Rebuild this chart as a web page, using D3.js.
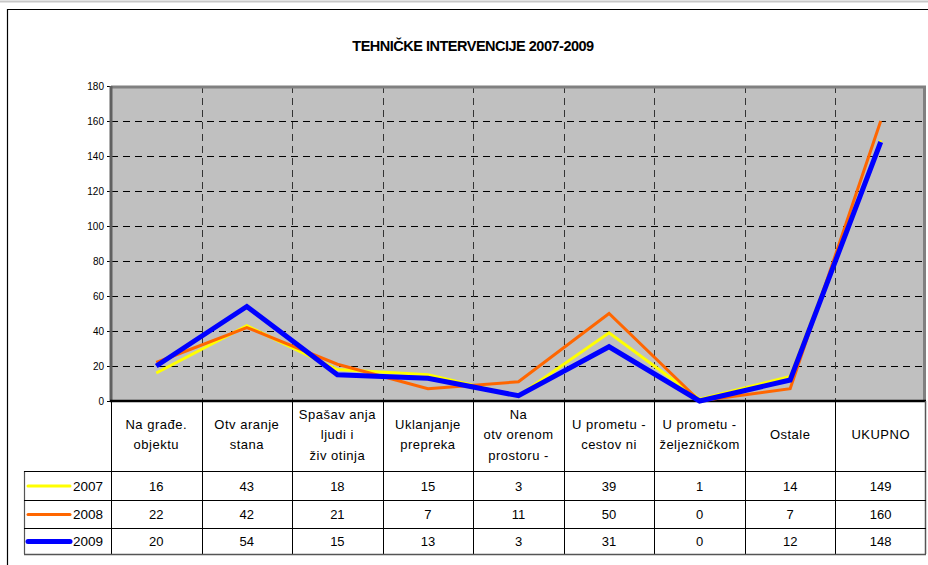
<!DOCTYPE html>
<html>
<head>
<meta charset="utf-8">
<script src="https://cdn.jsdelivr.net/npm/d3@7"></script>
<style>
  html, body { margin: 0; padding: 0; background: #fff; }
  svg { display: block; font-family: "Liberation Sans", Arial, sans-serif; }
</style>
</head>
<body>
<svg id="chart" width="928" height="565"></svg>
<script>
// ---- data ----
const title = "TEHNIČKE INTERVENCIJE 2007-2009";
const categories = ["Na građe. objektu", "Otvaranje stana", "Spašavanja ljudi i životinja", "Uklanjanje prepreka",
  "Na otvorenom prostoru -", "U prometu - cestovni", "U prometu - željezničkom", "Ostale", "UKUPNO"];
const categoryLines = [
  ["Na građe.", "objektu"],
  ["Otv aranje", "stana"],
  ["Spašav anja", "ljudi i", "živ otinja"],
  ["Uklanjanje", "prepreka"],
  ["Na", "otv orenom", "prostoru -"],
  ["U prometu -", "cestov ni"],
  ["U prometu -", "željezničkom"],
  ["Ostale"],
  ["UKUPNO"]
];
const seriesNames = ["2007", "2008", "2009"];
const values2007 = [16, 43, 18, 15, 3, 39, 1, 14, 149];
const values2008 = [22, 42, 21, 7, 11, 50, 0, 7, 160];
const values2009 = [20, 54, 15, 13, 3, 31, 0, 12, 148];
const yTicks = [0, 20, 40, 60, 80, 100, 120, 140, 160, 180];
const seriesColors = ["#FFFF00", "#FF6600", "#0000FF"];
const seriesWidths = [3, 3, 5];

const series = seriesNames.map((n, i) => ({
  name: n, values: [values2007, values2008, values2009][i], color: seriesColors[i], width: seriesWidths[i]
}));

// ---- layout ----
const plotL = 111, plotR = 926, plotT = 86, plotB = 401;
const headerB = 471;
const rowYs = [471, 500, 528, 554];
const legendL = 24;

const svg = d3.select("#chart");
svg.append("rect").attr("width", 928).attr("height", 565).attr("fill", "#fff");

// outer decorations
svg.append("line").attr("x1", 0).attr("x2", 928).attr("y1", 1.5).attr("y2", 1.5)
  .attr("stroke", "#c8c8c8").attr("stroke-width", 2);
svg.append("path").attr("d", "M7.5,565 V9.5 H928").attr("fill", "none").attr("stroke", "#000").attr("stroke-width", 1.2);

// title
svg.append("text").attr("x", 473).attr("y", 51).attr("text-anchor", "middle")
  .attr("font-size", 14.5).attr("font-weight", "bold").attr("letter-spacing", -0.5)
  .text(title);

const x = d3.scaleBand().domain(categories).range([plotL, plotR]).paddingInner(0).paddingOuter(0);
const y = d3.scaleLinear().domain([0, 180]).range([plotB, plotT]);

// plot background
svg.append("rect").attr("x", plotL).attr("y", plotT).attr("width", plotR - plotL).attr("height", plotB - plotT)
  .attr("fill", "#C0C0C0");

// horizontal grid
svg.append("g").selectAll("line").data(yTicks.filter(t => t > 0 && t < 180)).join("line")
  .attr("x1", plotL).attr("x2", plotR)
  .attr("y1", d => Math.round(y(d)) + 0.5).attr("y2", d => Math.round(y(d)) + 0.5)
  .attr("stroke", "#000").attr("stroke-width", 1).attr("stroke-dasharray", "7,5");

// vertical grid
svg.append("g").selectAll("line").data(categories.slice(1)).join("line")
  .attr("x1", d => Math.round(x(d)) + 0.5).attr("x2", d => Math.round(x(d)) + 0.5)
  .attr("y1", plotT).attr("y2", plotB)
  .attr("stroke", "#333").attr("stroke-width", 1).attr("stroke-dasharray", "7,5");

// plot border (top/right gray)
svg.append("path").attr("d", `M${plotL},${plotT + 1} H${plotR - 1.5} V${plotB}`)
  .attr("fill", "none").attr("stroke", "#808080").attr("stroke-width", 3);

// y axis
const yAxis = d3.axisLeft(y).tickValues(yTicks).tickSize(4).tickPadding(3);
const ya = svg.append("g").attr("transform", `translate(${plotL},0)`).call(yAxis);
ya.select(".domain").remove();
ya.selectAll(".tick text").attr("font-size", 10).attr("fill", "#000").attr("font-family", "Liberation Sans, Arial, sans-serif");
ya.selectAll(".tick line").attr("stroke", "#000");
svg.append("line").attr("x1", plotL).attr("x2", plotL).attr("y1", plotT).attr("y2", plotB)
  .attr("stroke", "#606060").attr("stroke-width", 3);
svg.append("line").attr("x1", plotL - 1).attr("x2", plotR).attr("y1", plotB).attr("y2", plotB)
  .attr("stroke", "#000").attr("stroke-width", 2.5);

// lines
const line = d3.line().x((d, i) => x(categories[i]) + x.bandwidth() / 2).y(d => y(d));
svg.append("g").selectAll("path").data(series).join("path")
  .attr("d", d => line(d.values))
  .attr("fill", "none").attr("stroke", d => d.color).attr("stroke-width", d => d.width)
  .attr("stroke-linejoin", "miter");

// ---- data table ----
const tbl = svg.append("g");
const lastRow = rowYs[rowYs.length - 1];
// column lines
const colXs = categories.map(c => Math.round(x(c)) + 0.5);
colXs.forEach(cx => {
  tbl.append("line").attr("x1", cx).attr("x2", cx).attr("y1", plotB).attr("y2", lastRow).attr("stroke", "#000");
});
tbl.append("line").attr("x1", plotR - 0.5).attr("x2", plotR - 0.5).attr("y1", plotB).attr("y2", lastRow)
  .attr("stroke", "#555").attr("stroke-width", 1.5);
tbl.append("line").attr("x1", legendL + 0.5).attr("x2", legendL + 0.5).attr("y1", rowYs[0]).attr("y2", lastRow)
  .attr("stroke", "#555").attr("stroke-width", 1.2);
// row lines
rowYs.forEach((ry, i) => {
  tbl.append("line").attr("x1", legendL).attr("x2", plotR).attr("y1", ry + 0.5).attr("y2", ry + 0.5)
    .attr("stroke", i === rowYs.length - 1 ? "#555" : "#000").attr("stroke-width", i === rowYs.length - 1 ? 1.5 : 1);
});

// header labels
categories.forEach((c, i) => {
  const lines = categoryLines[i];
  const cx = x(c) + x.bandwidth() / 2;
  const cy = (plotB + headerB) / 2 - 1.5;
  const lh = 20.5;
  const t = tbl.append("text").attr("text-anchor", "middle").attr("font-size", 13).attr("letter-spacing", 0.5);
  lines.forEach((ln, j) => {
    t.append("tspan").attr("x", cx).attr("y", cy + (j - (lines.length - 1) / 2) * lh + 4.5).text(ln);
  });
});

// rows
series.forEach((s, r) => {
  const cy = (rowYs[r] + rowYs[r + 1]) / 2 + 5;
  tbl.append("line").attr("x1", 28).attr("x2", 70).attr("y1", cy - 4.5).attr("y2", cy - 4.5)
    .attr("stroke", s.color).attr("stroke-width", s.width).attr("stroke-linecap", "round");
  tbl.append("text").attr("x", 103).attr("y", cy).attr("text-anchor", "end").attr("font-size", 13.5).text(s.name);
  s.values.forEach((v, i) => {
    tbl.append("text").attr("x", x(categories[i]) + x.bandwidth() / 2).attr("y", cy)
      .attr("text-anchor", "middle").attr("font-size", 13).text(v);
  });
});
</script>
</body>
</html>
